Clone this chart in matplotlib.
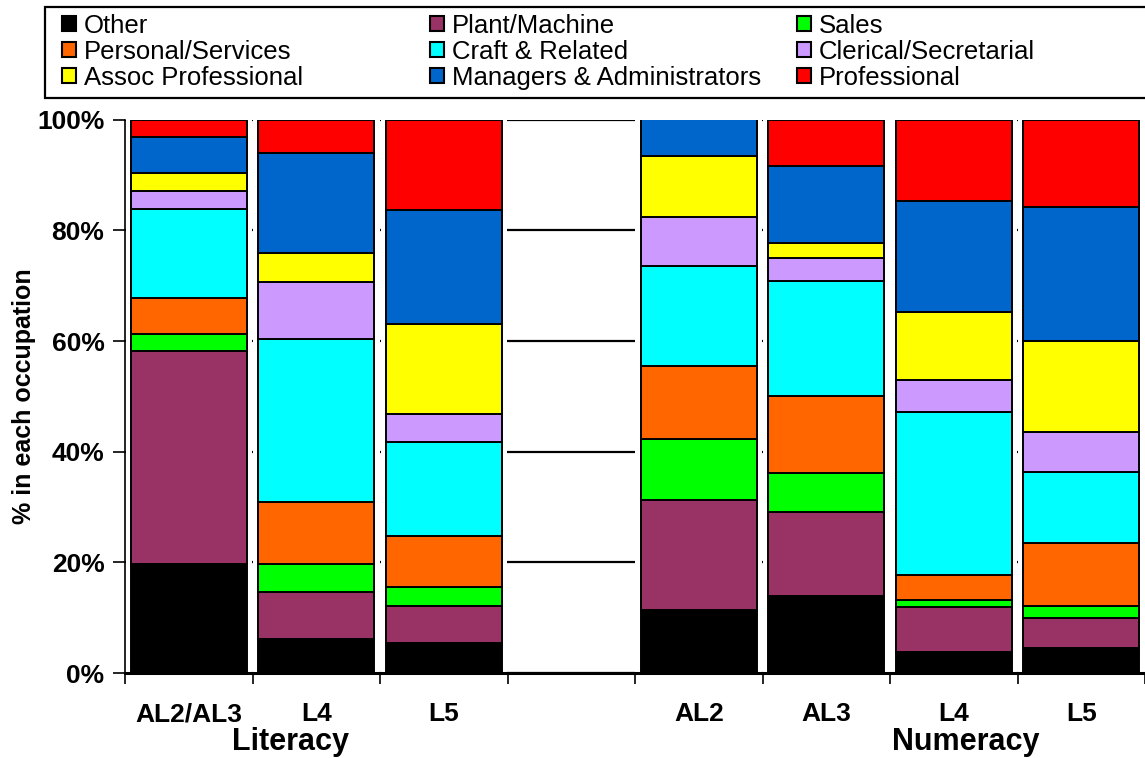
import numpy as np
import matplotlib
matplotlib.use('Agg')
from matplotlib import pyplot as plt
from matplotlib.patches import Rectangle
import matplotlib.transforms as mtransforms

plt.rcParams['font.family'] = ['Liberation Sans', 'DejaVu Sans']

# slot labels (slot 3 is an empty spacer)
groups = ['AL2/AL3', 'L4', 'L5', '', 'AL2', 'AL3', 'L4', 'L5']
occupations = ['Other', 'Plant/Machine', 'Sales', 'Personal/Services', 'Craft & Related',
               'Clerical/Secretarial', 'Assoc Professional', 'Managers & Administrators',
               'Professional']
colors = ['#000000', '#993366', '#00FF00', '#FF6600', '#00FFFF',
          '#CC99FF', '#FFFF00', '#0066CC', '#FF0000']

# % in each occupation, one list per occupation, order of groups (None = empty slot)
other        = [19.7,  6.2,  5.5, None, 11.4, 14.0,  3.9,  4.5]
plant        = [38.5,  8.4,  6.7, None, 19.8, 15.2,  8.0,  5.5]
sales        = [ 3.1,  5.2,  3.3, None, 11.1,  6.9,  1.4,  2.1]
personal     = [ 6.5, 11.2,  9.3, None, 13.2, 13.9,  4.4, 11.5]
craft        = [16.0, 29.3, 17.0, None, 18.1, 20.9, 29.4, 12.8]
clerical     = [ 3.3, 10.4,  5.0, None,  8.8,  4.1,  5.9,  7.1]
assoc        = [ 3.3,  5.2, 16.3, None, 11.0,  2.8, 12.3, 16.5]
managers     = [ 6.4, 18.1, 20.6, None,  6.8, 13.9, 20.1, 24.2]
professional = [ 3.2,  6.0, 16.3, None,  0.0,  8.3, 14.6, 15.8]
series = [other, plant, sales, personal, craft, clerical, assoc, managers, professional]

W, H = 1145, 758
fig = plt.figure(figsize=(W / 100, H / 100), dpi=100)
ax = fig.add_axes([0.1094, 0.112, 0.8906, 0.730])

x = np.arange(len(groups))
used = [i for i, g in enumerate(groups) if g]

# white backing strips hide the gridlines between bars
ax.bar(used, [100] * len(used), width=0.995, color='white', edgecolor='none', zorder=2)

bottom = np.zeros(len(used))
for name, vals, col in zip(occupations, series, colors):
    v = np.array([vals[i] for i in used], dtype=float)
    ax.bar(used, v, bottom=bottom, width=0.91, color=col, edgecolor='black',
           linewidth=1.4, zorder=3)
    bottom += v

ax.set_xlim(-0.5, 7.5)
ax.set_ylim(0, 100)
ax.set_yticks([0, 20, 40, 60, 80, 100])
ax.set_yticklabels(['%d%%' % t for t in [0, 20, 40, 60, 80, 100]],
                   fontsize=19, fontweight='bold')
ax.yaxis.grid(True, color='black', linewidth=1.6, zorder=1)
ax.set_axisbelow(True)
ax.tick_params(axis='y', direction='out', length=9, width=1.2, pad=6)

ax.set_xticks(np.arange(-0.5, 8.0, 1.0))
ax.set_xticklabels([])
ax.tick_params(axis='x', which='major', direction='out', length=8, width=1.2)
ax.set_xticks(x, minor=True)
ax.set_xticklabels(groups, minor=True, fontsize=19, fontweight='bold')
ax.tick_params(axis='x', which='minor', length=0, pad=21)

for s in ['top', 'right']:
    ax.spines[s].set_visible(False)
ax.spines['bottom'].set_linewidth(2.2)
ax.spines['left'].set_linewidth(1.2)

ax.set_ylabel('% in each occupation', fontsize=18, fontweight='bold')
ax.yaxis.set_label_coords(-0.088, 0.5)

trans = mtransforms.blended_transform_factory(ax.transData, ax.transAxes)
ax.text(0.8, -0.125, 'Literacy', transform=trans, ha='center', va='center',
        fontsize=22, fontweight='bold')
ax.text(6.09, -0.125, 'Numeracy', transform=trans, ha='center', va='center',
        fontsize=22, fontweight='bold')

# legend drawn by hand: Excel style fixed-width columns, read row-wise
fig.patches.append(Rectangle((45 / W, 1 - 98 / H), 1.2, 91 / H, transform=fig.transFigure,
                             facecolor='white', edgecolor='black', linewidth=1.6))
col_x = [62, 430, 797]
row_y = [24, 50, 76]
for k, (name, col) in enumerate(zip(occupations, colors)):
    r, c = divmod(k, 3)
    fig.patches.append(Rectangle((col_x[c] / W, 1 - (row_y[r] + 7) / H), 14 / W, 15 / H,
                                 transform=fig.transFigure, facecolor=col,
                                 edgecolor='black', linewidth=1.5))
    fig.text((col_x[c] + 22) / W, 1 - (row_y[r] + 2) / H, name, fontsize=18.5,
             ha='left', va='center')

fig.savefig('out.png', dpi=100)
